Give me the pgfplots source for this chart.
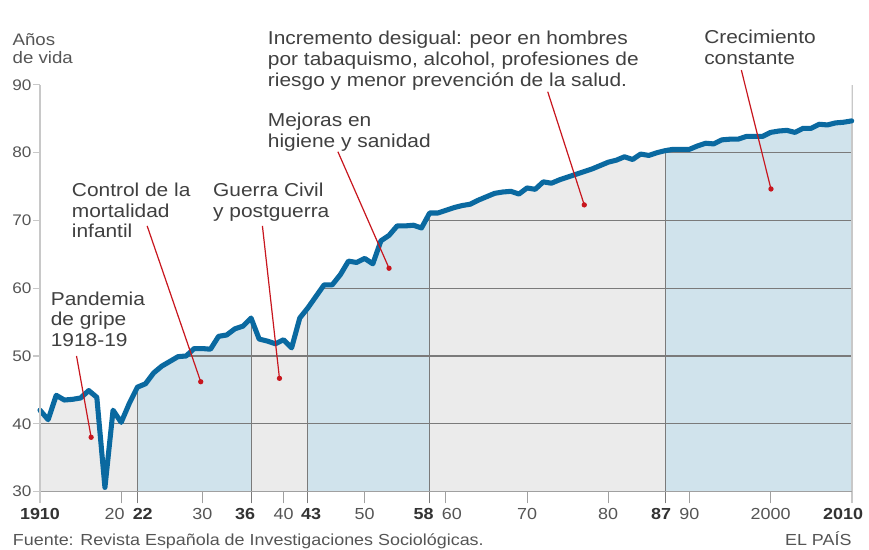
\documentclass[border=0pt]{standalone}
\usepackage{fontspec}
\setmainfont{Liberation Sans}[FakeStretch=1.12]
\usepackage{pgfplots}
\pgfplotsset{compat=1.18}
\usepackage{pgfplotstable}
\usepgfplotslibrary{fillbetween}
\definecolor{lineblue}{HTML}{0A69A0}
\definecolor{fillblue}{HTML}{D0E3EC}
\definecolor{fillgray}{HTML}{EBEBEB}
\definecolor{gridc}{HTML}{7A7A7A}
\definecolor{axisc}{HTML}{C8C8C8}
\definecolor{tickc}{HTML}{A0A0A0}
\definecolor{redc}{HTML}{C8161E}
\definecolor{textc}{HTML}{404040}
\definecolor{labc}{HTML}{555555}
\definecolor{boldc}{HTML}{333333}
\newcommand\sh[2]{\hspace*{#1}#2\hspace*{-#1}}
\newcommand\bl[1]{\textcolor{boldc}{\textbf{#1}}}

\pgfplotstableread{
year val
1910 42.0
1911 40.6
1912 44.2
1913 43.5
1914 43.6
1915 43.8
1916 44.9
1917 43.9
1918 30.6
1919 42.0
1920 40.2
1921 43.0
1922 45.4
1923 45.9
1924 47.5
1925 48.5
1926 49.2
1927 49.9
1928 50.0
1929 51.1
1930 51.1
1931 51.0
1932 52.9
1933 53.1
1934 54.0
1935 54.4
1936 55.6
1937 52.5
1938 52.2
1939 51.8
1940 52.4
1941 51.2
1942 55.6
1943 57.1
1944 58.8
1945 60.5
1946 60.5
1947 62.0
1948 64.0
1949 63.8
1950 64.4
1951 63.6
1952 67.0
1953 67.8
1954 69.2
1955 69.2
1956 69.3
1957 68.9
1958 71.1
1959 71.1
1960 71.5
1961 71.9
1962 72.2
1963 72.4
1964 73.0
1965 73.5
1966 74.0
1967 74.2
1968 74.3
1969 73.9
1970 74.8
1971 74.6
1972 75.7
1973 75.5
1974 76.0
1975 76.4
1976 76.8
1977 77.2
1978 77.6
1979 78.1
1980 78.6
1981 78.9
1982 79.4
1983 79.0
1984 79.8
1985 79.6
1986 80.0
1987 80.3
1988 80.5
1989 80.5
1990 80.5
1991 81.0
1992 81.4
1993 81.3
1994 81.9
1995 82.0
1996 82.0
1997 82.4
1998 82.4
1999 82.4
2000 83.0
2001 83.2
2002 83.3
2003 83.0
2004 83.6
2005 83.6
2006 84.2
2007 84.1
2008 84.4
2009 84.5
2010 84.7
}\lifedata

\begin{document}
\begin{tikzpicture}
\begin{axis}[
  at={(0,0)}, anchor=south west,
  scale only axis, width=608.8pt, height=304.9pt,
  xmin=1910, xmax=2010, ymin=30, ymax=90,
  clip=false,
  axis line style={draw=none},
  tick style={draw=none},
  xtick={1910,1920,1922,1930,1936,1940,1943,1950,1958,1960,1970,1980,1987,1990,2000,2010},
  xticklabels={\bl{1910},\sh{-5pt}{20},\sh{4pt}{\bl{22}},30,\sh{-4.5pt}{\bl{36}},40,\sh{2.5pt}{\bl{43}},50,\sh{-4.5pt}{\bl{58}},\sh{4.5pt}{60},70,80,\sh{-3pt}{\bl{87}},90,2000,\sh{-6.5pt}{\bl{2010}}},
  ytick={30,40,50,60,70,80,90},
  xticklabel style={font=\fontsize{12}{14}\selectfont, text=labc, inner sep=0pt, anchor=north, yshift=-12.4pt},
  yticklabel style={font=\fontsize{11.5}{13}\selectfont, text=labc, inner sep=0pt, anchor=east, xshift=-6.2pt},
  /pgf/number format/assume math mode=true,
]
\addplot[name path=curve, draw=none] table[x=year, y=val] {\lifedata};
\path[name path=base] (axis cs:1910,30) -- (axis cs:2010,30);
\addplot[fillgray, draw=none] fill between[of=curve and base, soft clip={domain=1910:1922}];
\addplot[fillblue, draw=none] fill between[of=curve and base, soft clip={domain=1922:1936}];
\addplot[fillgray, draw=none] fill between[of=curve and base, soft clip={domain=1936:1943}];
\addplot[fillblue, draw=none] fill between[of=curve and base, soft clip={domain=1943:1958}];
\addplot[fillgray, draw=none] fill between[of=curve and base, soft clip={domain=1958:1987}];
\addplot[fillblue, draw=none] fill between[of=curve and base, soft clip={domain=1987:2010}];
% grid lines
\draw[gridc, line width=0.8pt] (axis cs:1910,40) -- (axis cs:2010,40);
\draw[gridc, line width=0.8pt] (axis cs:1910,50) -- (axis cs:2010,50);
\draw[gridc, line width=0.8pt] (axis cs:1910,60) -- (axis cs:2010,60);
\draw[gridc, line width=0.8pt] (axis cs:1910,70) -- (axis cs:2010,70);
\draw[gridc, line width=0.8pt] (axis cs:1910,80) -- (axis cs:2010,80);
\draw[gridc, line width=0.8pt] ([yshift=-9pt]axis cs:1922,30) -- (axis cs:1922,90);
\draw[gridc, line width=0.8pt] ([yshift=-9pt]axis cs:1936,30) -- (axis cs:1936,90);
\draw[gridc, line width=0.8pt] ([yshift=-9pt]axis cs:1943,30) -- (axis cs:1943,90);
\draw[gridc, line width=0.8pt] ([yshift=-9pt]axis cs:1958,30) -- (axis cs:1958,90);
\draw[gridc, line width=0.8pt] ([yshift=-9pt]axis cs:1987,30) -- (axis cs:1987,90);
\draw[axisc, line width=1.5pt] ([yshift=-9pt]axis cs:2010,30) -- (axis cs:2010,90);
% white cover above the curve
\addplot[fill=white, draw=none] table[x=year, y=val] {\lifedata} -- (axis cs:2010,91) -- (axis cs:1910,91) -- cycle;
% curve
\addplot[lineblue, line width=3.8pt, line join=round, line cap=round] table[x=year, y=val] {\lifedata};
% axes
\draw[tickc, line width=1pt] (axis cs:1910,30) -- (axis cs:2010,30);
\draw[tickc, line width=0.8pt] ([yshift=-9pt]axis cs:1920,30) -- (axis cs:1920,30);
\draw[tickc, line width=0.8pt] ([yshift=-9pt]axis cs:1930,30) -- (axis cs:1930,30);
\draw[tickc, line width=0.8pt] ([yshift=-9pt]axis cs:1940,30) -- (axis cs:1940,30);
\draw[tickc, line width=0.8pt] ([yshift=-9pt]axis cs:1950,30) -- (axis cs:1950,30);
\draw[tickc, line width=0.8pt] ([yshift=-9pt]axis cs:1960,30) -- (axis cs:1960,30);
\draw[tickc, line width=0.8pt] ([yshift=-9pt]axis cs:1970,30) -- (axis cs:1970,30);
\draw[tickc, line width=0.8pt] ([yshift=-9pt]axis cs:1980,30) -- (axis cs:1980,30);
\draw[tickc, line width=0.8pt] ([yshift=-9pt]axis cs:1990,30) -- (axis cs:1990,30);
\draw[tickc, line width=0.8pt] ([yshift=-9pt]axis cs:2000,30) -- (axis cs:2000,30);
\draw[axisc, line width=1.8pt] ([yshift=-9pt]axis cs:1910,30) -- (axis cs:1910,90);
\draw[axisc, line width=0.8pt] ([xshift=-5pt]axis cs:1910,30) -- (axis cs:1910,30);
\draw[axisc, line width=0.8pt] ([xshift=-5pt]axis cs:1910,40) -- (axis cs:1910,40);
\draw[axisc, line width=0.8pt] ([xshift=-5pt]axis cs:1910,50) -- (axis cs:1910,50);
\draw[axisc, line width=0.8pt] ([xshift=-5pt]axis cs:1910,60) -- (axis cs:1910,60);
\draw[axisc, line width=0.8pt] ([xshift=-5pt]axis cs:1910,70) -- (axis cs:1910,70);
\draw[axisc, line width=0.8pt] ([xshift=-5pt]axis cs:1910,80) -- (axis cs:1910,80);
\draw[axisc, line width=0.8pt] ([xshift=-5pt]axis cs:1910,90) -- (axis cs:1910,90);
% leaders
\addplot[redc, line width=0.9pt, mark=*, mark size=1.5pt, mark indices={2}, mark options={solid, fill=redc, draw=redc}] coordinates {(1914.5,50.0) (1916.3,38.0)};
\addplot[redc, line width=0.9pt, mark=*, mark size=1.5pt, mark indices={2}, mark options={solid, fill=redc, draw=redc}] coordinates {(1923.2,69.2) (1929.8,46.2)};
\addplot[redc, line width=0.9pt, mark=*, mark size=1.5pt, mark indices={2}, mark options={solid, fill=redc, draw=redc}] coordinates {(1937.4,69.2) (1939.5,46.7)};
\addplot[redc, line width=0.9pt, mark=*, mark size=1.5pt, mark indices={2}, mark options={solid, fill=redc, draw=redc}] coordinates {(1946.7,80.15) (1953.0,62.95)};
\addplot[redc, line width=0.9pt, mark=*, mark size=1.5pt, mark indices={2}, mark options={solid, fill=redc, draw=redc}] coordinates {(1972.55,89.0) (1977.05,72.3)};
\addplot[redc, line width=0.9pt, mark=*, mark size=1.5pt, mark indices={2}, mark options={solid, fill=redc, draw=redc}] coordinates {(1996.4,92.2) (2000.05,74.65)};
% texts (anchor = baseline of the last line)
\node[anchor=base west, align=left, inner sep=0pt, text=textc, font=\fontsize{14}{15.4}\selectfont] at (axis cs:1938.05,89.84) {Incremento desigual: peor en hombres\\por tabaquismo, alcohol, profesiones de\\riesgo y menor prevención de la salud.};
\node[anchor=base west, align=left, inner sep=0pt, text=textc, font=\fontsize{14}{15.4}\selectfont] at (axis cs:1938.05,80.82) {Mejoras en\\higiene y sanidad};
\node[anchor=base west, align=left, inner sep=0pt, text=textc, font=\fontsize{14}{15.4}\selectfont] at (axis cs:1991.8,93.02) {Crecimiento\\constante};
\node[anchor=base west, align=left, inner sep=0pt, text=textc, font=\fontsize{14}{15.4}\selectfont] at (axis cs:1913.9,67.44) {Control de la\\mortalidad\\infantil};
\node[anchor=base west, align=left, inner sep=0pt, text=textc, font=\fontsize{14}{15.4}\selectfont] at (axis cs:1931.3,70.47) {Guerra Civil\\y postguerra};
\node[anchor=base west, align=left, inner sep=0pt, text=textc, font=\fontsize{14}{15.4}\selectfont] at (axis cs:1911.3,51.44) {Pandemia\\de gripe\\1918-19};
\node[anchor=base west, align=left, inner sep=0pt, text=labc, font=\fontsize{12.5}{13.5}\selectfont] at (axis cs:1906.6,93.24) {Años\\de vida};
\end{axis}
\pgfresetboundingbox
\useasboundingbox (-30pt,-43.875pt) rectangle (621.75pt,368.625pt);
\node[anchor=base west, inner sep=0pt, text=labc, font=\fontsize{12}{14}\selectfont] at (-20.5pt,-40.6pt) {Fuente: Revista Española de Investigaciones Sociológicas.};
\node[anchor=base east, inner sep=0pt, text=labc, font=\fontsize{12}{14}\selectfont] at (608.8pt,-40.6pt) {EL PAÍS};
\end{tikzpicture}
\end{document}
